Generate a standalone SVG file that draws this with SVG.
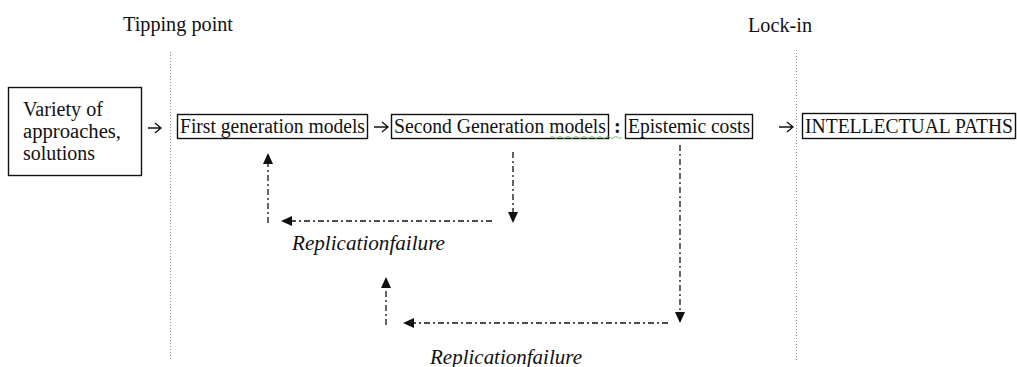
<svg xmlns="http://www.w3.org/2000/svg" width="1017" height="367" viewBox="0 0 1017 367">
<style>
  text { font-family: "Liberation Serif", "Times New Roman", serif; fill: #111; }
  .lbl { font-size: 20px; }
  .ital { font-size: 20px; font-style: italic; }
  .box { fill: #fff; stroke: #111; stroke-width: 1.4; }
  .guide { stroke: #999; stroke-width: 1; stroke-dasharray: 1,2; fill: none; }
  .fb { stroke: #111; stroke-width: 1.3; stroke-dasharray: 6,3,2,3; fill: none; }
  .head { fill: #111; }
  .arr { stroke: #111; stroke-width: 1.3; fill: none; }
</style>
<rect width="1017" height="367" fill="#fff"/>
<g id="guides">
  <line class="guide" x1="170.5" y1="52" x2="170.5" y2="360"/>
  <line class="guide" x1="796.5" y1="50" x2="796.5" y2="360"/>
  <text class="lbl" x="123" y="31" textLength="110" lengthAdjust="spacingAndGlyphs">Tipping point</text>
  <text class="lbl" x="748" y="32" textLength="64" lengthAdjust="spacingAndGlyphs">Lock-in</text>
</g>
<g id="variety">
  <rect class="box" x="8.5" y="87.5" width="133" height="88"/>
  <text class="lbl" x="23" y="116" textLength="80" lengthAdjust="spacingAndGlyphs">Variety of</text>
  <text class="lbl" x="23" y="138" textLength="98" lengthAdjust="spacingAndGlyphs">approaches,</text>
  <text class="lbl" x="23" y="160" textLength="72" lengthAdjust="spacingAndGlyphs">solutions</text>
</g>
<g id="first">
  <rect class="box" x="177.5" y="114.5" width="190" height="24"/>
  <text class="lbl" x="180" y="133" textLength="185" lengthAdjust="spacingAndGlyphs">First  generation models</text>
</g>
<g id="second">
  <rect class="box" x="391.5" y="114.5" width="217" height="24"/>
  <text class="lbl" x="394" y="133" textLength="212" lengthAdjust="spacingAndGlyphs">Second Generation models</text>
  <path d="M550 137.5 q2 -2 4 0 t4 0 t4 0 t4 0 t4 0 t4 0 t4 0 t4 0 t4 0 t4 0 t4 0 t4 0 t4 0 t4 0 t4 0 t4 0 t4 0 t4 0" fill="none" stroke="#4caf50" stroke-width="0.8"/>
  <text class="lbl" x="614" y="133" font-weight="bold">:</text>
</g>
<g id="epistemic">
  <rect class="box" x="625.5" y="114.5" width="127" height="24"/>
  <text class="lbl" x="628" y="133" textLength="122" lengthAdjust="spacingAndGlyphs">Epistemic  costs</text>
</g>
<g id="paths">
  <rect class="box" x="802.5" y="113.5" width="213" height="25"/>
  <text class="lbl" x="805" y="133" textLength="208" lengthAdjust="spacingAndGlyphs">INTELLECTUAL PATHS</text>
</g>
<g id="connectors">
  <path class="arr" d="M148 128 H161 M155 123 L161 128 L155 133"/>
  <path class="arr" d="M374 127 H388 M382 122 L388 127 L382 132"/>
  <path class="arr" d="M779 127 H793 M787 122 L793 127 L787 132"/>
  <!-- loop 1 -->
  <line class="fb" x1="513" y1="152" x2="513" y2="213"/>
  <polygon class="head" points="508,212 518,212 513,223"/>
  <line class="fb" x1="492" y1="221" x2="290" y2="221"/>
  <polygon class="head" points="281,221 292,216 292,226"/>
  <line class="fb" x1="268" y1="223" x2="268" y2="163"/>
  <polygon class="head" points="263,164 273,164 268,153"/>
  <!-- loop 2 -->
  <line class="fb" x1="680" y1="145" x2="680" y2="313"/>
  <polygon class="head" points="675,312 685,312 680,323"/>
  <line class="fb" x1="668" y1="323" x2="412" y2="323"/>
  <polygon class="head" points="403,323 414,318 414,328"/>
  <line class="fb" x1="386" y1="325" x2="386" y2="287"/>
  <polygon class="head" points="381,288 391,288 386,277"/>
</g>
<g id="labels">
  <text class="ital" x="292" y="250" textLength="153" lengthAdjust="spacingAndGlyphs">Replicationfailure</text>
  <text class="ital" x="430" y="364" textLength="152" lengthAdjust="spacingAndGlyphs">Replicationfailure</text>
</g>
</svg>
